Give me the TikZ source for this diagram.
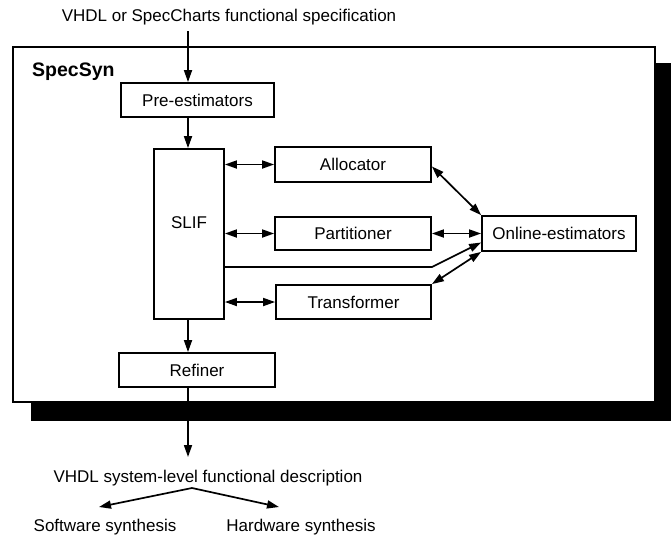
\documentclass[tikz,border=0pt]{standalone}
\usepackage{fontspec}
\setmainfont{Liberation Sans}
\usetikzlibrary{arrows.meta}
\begin{document}
\begin{tikzpicture}[x=1pt,y=-1pt,
  box/.style={draw,line width=1.8pt,fill=white,inner sep=0pt,font=\fontsize{17}{19}\selectfont},
  lbl/.style={inner sep=0pt,font=\fontsize{17}{19}\selectfont},
  tip/.style={Triangle[length=12pt,width=8pt]},
  arr/.style={line width=1.7pt,-{Triangle[length=12pt,width=8pt]}},
  darr/.style={line width=1.7pt,{Triangle[length=12pt,width=8pt]}-{Triangle[length=12pt,width=8pt]}}]
\useasboundingbox (0,0) rectangle (671,539);
% shadow and frame
\fill[black] (31,63) rectangle (671,421);
\draw[line width=2pt,fill=white] (13,47) rectangle (655,402);
\node[anchor=west,inner sep=0pt,font=\bfseries\fontsize{19.5}{21}\selectfont] (specsyn) at (32,72) {SpecSyn};
% texts
\node[lbl] (top) at (229,17) {VHDL or SpecCharts functional specification};
\node[lbl] (vhdl) at (208,478) {VHDL system-level functional description};
\node[lbl] (sw) at (105,527) {Software synthesis};
\node[lbl] (hw) at (301,527) {Hardware synthesis};
% boxes
\node[box,minimum width=153pt,minimum height=34pt] (pre) at (197.5,100) {Pre-estimators};
\node[box,minimum width=70pt,minimum height=170pt] (slif) at (189,234) {};
\node[lbl] (sliftxt) at (189,223) {SLIF};
\node[box,minimum width=156pt,minimum height=35pt] (alloc) at (353,164.5) {Allocator};
\node[box,minimum width=156pt,minimum height=33pt] (part) at (353,233.5) {Partitioner};
\node[box,minimum width=155pt,minimum height=34pt] (trans) at (353.5,302) {Transformer};
\node[box,minimum width=154pt,minimum height=35pt] (online) at (559,233.5) {Online-estimators};
\node[box,minimum width=156pt,minimum height=34pt] (ref) at (197,370) {Refiner};
% coordinates
\coordinate (in) at (188,31);
\coordinate (out) at (188,457);
\coordinate (split) at (192,488);
\coordinate (swend) at (99,507);
\coordinate (hwend) at (279,507);
\coordinate (bend) at (432,267);
% connectors
\draw[arr] (in) -- (in |- pre.north);
\draw[arr] (in |- pre.south) -- (in |- slif.north);
\draw[arr] (in |- slif.south) -- (in |- ref.north);
\draw[arr] (in |- ref.south) -- (out);
\draw[arr] (split) -- (swend);
\draw[arr] (split) -- (hwend);
\draw[darr] (slif.east |- alloc.west) -- (alloc.west);
\draw[darr] (slif.east |- part.west) -- (part.west);
\draw[darr] (slif.east |- trans.west) -- (trans.west);
\draw[darr] ([yshift=-2pt]alloc.east) -- (online.north west);
\draw[darr] (part.east) -- (online.west);
\draw[darr] (trans.north east) -- (online.south west);
\draw[arr] (slif.east |- bend) -- (bend) -- ([yshift=-9pt]online.west);
\end{tikzpicture}
\end{document}
